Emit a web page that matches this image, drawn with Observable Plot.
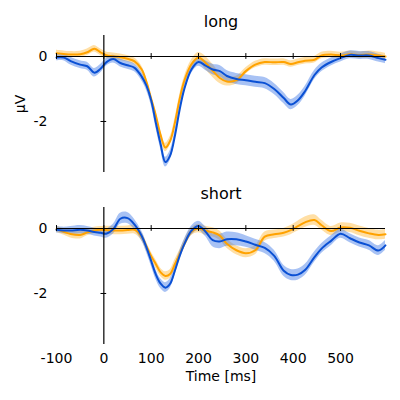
<!DOCTYPE html>
<html>
<head>
<meta charset="utf-8">
<script src="https://cdn.jsdelivr.net/npm/d3@7"></script>
<script src="https://cdn.jsdelivr.net/npm/@observablehq/plot@0.6"></script>
<style>
  html, body { margin: 0; padding: 0; background: #fff; }
  #chart { width: 400px; height: 400px; overflow: hidden; }
  #chart svg { display: block; }
</style>
</head>
<body>
<div id="chart"></div>
<script>
// Time points (ms)
const T = [-100,-85,-70,-50,-35,-20,-7,5, 20,35,50,65,80,90,100, 110,120,130,140,150,160,170, 185,200,215,230,245,260, 280,300,320,340,360,380,395, 410,425,445,460,480,500, 520,540,560,580,595];

// Panel "long"
const longBlue = [-0.03,-0.03,-0.14,-0.25,-0.30,-0.50,-0.38,-0.18, -0.08,-0.20,-0.27,-0.35,-0.62,-0.90,-1.35, -2.05,-2.70,-3.25,-3.05,-2.45,-1.65,-1.00, -0.40,-0.17,-0.28,-0.40,-0.45,-0.60, -0.69,-0.73,-0.78,-0.82,-1.00,-1.28,-1.48, -1.35,-1.07,-0.57,-0.34,-0.17,-0.05, 0.05,0.03,0.03,-0.05,-0.10];
const longOrange = [0.10,0.08,0.06,0.07,0.13,0.24,0.13,0.04, 0.01,-0.02,-0.07,-0.15,-0.40,-0.78,-1.30, -1.82,-2.42,-2.80,-2.60,-2.05,-1.32,-0.75, -0.24,-0.03,-0.20,-0.44,-0.66,-0.77, -0.73,-0.45,-0.25,-0.17,-0.18,-0.17,-0.23, -0.18,-0.13,-0.10,0.03,0.06,0.03, 0.07,0.04,0.06,0.03,0.00];
const longBlueCI = [0.10,0.10,0.12,0.12,0.12,0.13,0.13,0.12, 0.12,0.12,0.12,0.12,0.13,0.14,0.15, 0.15,0.15,0.15,0.15,0.15,0.14,0.13, 0.13,0.13,0.15,0.16,0.17,0.17, 0.17,0.17,0.17,0.17,0.17,0.17,0.16, 0.16,0.15,0.14,0.13,0.12,0.12, 0.12,0.12,0.12,0.12,0.12];
const longOrangeCI = [0.09,0.09,0.09,0.09,0.10,0.10,0.10,0.10, 0.10,0.10,0.10,0.10,0.11,0.12,0.13, 0.13,0.13,0.13,0.13,0.13,0.12,0.12, 0.13,0.15,0.20,0.20,0.17,0.14, 0.12,0.10,0.10,0.10,0.10,0.10,0.10, 0.10,0.10,0.10,0.10,0.10,0.10, 0.10,0.10,0.11,0.11,0.10];

// Panel "short"
const shortBlue = [-0.04,-0.06,-0.06,-0.04,-0.06,-0.11,-0.13,-0.16, -0.02,0.30,0.32,0.12,-0.23,-0.58,-1.00, -1.42,-1.70,-1.82,-1.70,-1.30,-0.85,-0.48, -0.07,0.08,-0.10,-0.36,-0.40,-0.33, -0.33,-0.40,-0.50,-0.60,-0.84,-1.30,-1.43, -1.42,-1.28,-0.88,-0.62,-0.38,-0.16, -0.30,-0.43,-0.52,-0.68,-0.52];
const shortOrange = [-0.02,-0.10,-0.17,-0.20,-0.12,-0.06,-0.04,-0.05, -0.06,-0.06,-0.05,-0.04,-0.25,-0.55,-0.85, -1.10,-1.35,-1.46,-1.40,-1.10,-0.80,-0.48, -0.10,0.00,-0.07,-0.12,-0.22,-0.47, -0.67,-0.76,-0.67,-0.25,-0.18,-0.13,-0.05, 0.07,0.19,0.26,0.10,-0.08,0.03, 0.02,-0.07,-0.15,-0.20,-0.18];
const shortBlueCI = [0.10,0.10,0.12,0.13,0.12,0.12,0.13,0.14, 0.15,0.17,0.17,0.16,0.15,0.15,0.15, 0.15,0.15,0.15,0.15,0.15,0.14,0.14, 0.14,0.14,0.15,0.20,0.22,0.22, 0.20,0.18,0.17,0.17,0.17,0.17,0.17, 0.17,0.17,0.16,0.15,0.15,0.14, 0.14,0.14,0.15,0.15,0.15];
const shortOrangeCI = [0.10,0.10,0.12,0.12,0.10,0.10,0.10,0.12, 0.13,0.13,0.13,0.13,0.13,0.13,0.13, 0.13,0.13,0.13,0.13,0.13,0.12,0.12, 0.12,0.13,0.14,0.14,0.14,0.14, 0.14,0.14,0.14,0.14,0.13,0.13,0.14, 0.15,0.16,0.16,0.15,0.14,0.14, 0.14,0.15,0.15,0.15,0.15];

const xTicks = [-100, 0, 100, 200, 300, 400, 500];
const yTicks = [0, -2];
const xDomain = [-100, 595];
const yDomain = [-3.57, 0.646];

const BLUE = "#0a50d4";
const BLUE_BAND = "#3d78e6";
const ORANGE = "#ffa200";
const ORANGE_BAND = "#ffb938";

function rows(v, ci) {
  return T.map((t, i) => ({t, v: v[i], lo: v[i] - ci[i], hi: v[i] + ci[i]}));
}

function panel({title, blue, blueCI, orange, orangeCI, height, marginTop, marginBottom, bottomAxis, yLabel}) {
  const b = rows(blue, blueCI), o = rows(orange, orangeCI);
  return Plot.plot({
    width: 400,
    height,
    marginLeft: 56,
    marginRight: 15,
    marginTop,
    marginBottom,
    style: {fontFamily: "DejaVu Sans", fontSize: "14px", color: "#000", background: "#fff"},
    x: {domain: xDomain, axis: bottomAxis ? "bottom" : null, ticks: xTicks, tickSize: 0, tickPadding: 9,
        tickFormat: d => String(d), label: bottomAxis ? "Time [ms]" : null, labelAnchor: "center", labelArrow: "none", labelOffset: 36},
    y: {domain: yDomain, ticks: yTicks, tickSize: 0, tickPadding: 9, tickFormat: d => String(d),
        label: yLabel, labelAnchor: "center", labelArrow: "none", labelOffset: 41},
    marks: [
      Plot.areaY(o, {x: "t", y1: "lo", y2: "hi", fill: ORANGE_BAND, fillOpacity: 0.45, curve: "catmull-rom"}),
      Plot.areaY(b, {x: "t", y1: "lo", y2: "hi", fill: BLUE_BAND, fillOpacity: 0.45, curve: "catmull-rom"}),
      Plot.line(o, {x: "t", y: "v", stroke: ORANGE, strokeWidth: 2, curve: "catmull-rom"}),
      Plot.line(b, {x: "t", y: "v", stroke: BLUE, strokeWidth: 2, curve: "catmull-rom"}),
      Plot.ruleY([0], {x1: xDomain[0], x2: xDomain[1], stroke: "#000", strokeWidth: 1.2}),
      Plot.ruleX([0], {y1: yDomain[0], y2: yDomain[1], stroke: "#000", strokeWidth: 1.2}),
      Plot.ruleX(xTicks, {x: d => d, y1: -0.09, y2: 0.09, stroke: "#000", strokeWidth: 1}),
      Plot.ruleY(yTicks, {y: d => d, x1: -6, x2: 6, stroke: "#000", strokeWidth: 1}),
      Plot.text([title], {frameAnchor: "top", dy: -14, lineAnchor: "middle", fontSize: 16, fill: "#000"})
    ]
  });
}

const chart = document.getElementById("chart");
chart.append(panel({title: "long", blue: longBlue, blueCI: longBlueCI, orange: longOrange, orangeCI: longOrangeCI,
  height: 180, marginTop: 35, marginBottom: 8, bottomAxis: false, yLabel: "μV"}));
chart.append(panel({title: "short", blue: shortBlue, blueCI: shortBlueCI, orange: shortOrange, orangeCI: shortOrangeCI,
  height: 220, marginTop: 27, marginBottom: 56, bottomAxis: true, yLabel: null}));
</script>
</body>
</html>
